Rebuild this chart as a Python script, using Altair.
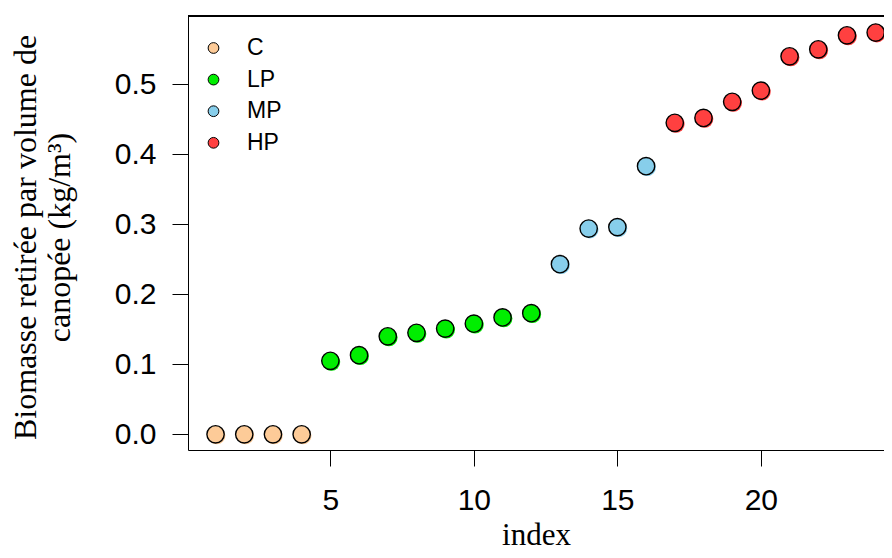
import altair as alt
import pandas as pd

# Data
index = list(range(1, 25))
values = [0.0, 0.0, 0.0, 0.0,
          0.105, 0.113, 0.140, 0.145, 0.151, 0.158, 0.167, 0.173,
          0.243, 0.294, 0.296, 0.383,
          0.445, 0.452, 0.475, 0.491, 0.540, 0.550, 0.570, 0.574]
groups = ["C"] * 4 + ["LP"] * 8 + ["MP"] * 4 + ["HP"] * 8
group_order = ["C", "LP", "MP", "HP"]
group_colors = ["#FDCB98", "#00EE00", "#87CEEB", "#FF4040"]
x_ticks = [5, 10, 15, 20]
y_ticks = [0.0, 0.1, 0.2, 0.3, 0.4, 0.5]
x_domain = [0.04, 24.29]
y_domain = [-0.0224, 0.5976]

df = pd.DataFrame({"index": index, "value": values, "group": groups})

x_enc = alt.X(
    "index:Q",
    scale=alt.Scale(domain=x_domain, nice=False, zero=False),
    axis=alt.Axis(
        values=x_ticks, format="d", grid=False,
        labelFont="Liberation Sans", labelFontSize=30, labelColor="black",
        labelPadding=19, labelFlush=False,
        tickSize=16, tickColor="black", tickWidth=1,
        domainColor="black", domainWidth=1,
        title="index", titleFont="Liberation Serif", titleFontSize=31,
        titleFontWeight="normal", titleColor="black",
        titleBaseline="alphabetic", titleY=94,
    ),
)
y_enc = alt.Y(
    "value:Q",
    scale=alt.Scale(domain=y_domain, nice=False, zero=False),
    axis=alt.Axis(
        values=y_ticks, format=".1f", grid=False,
        labelFont="Liberation Sans", labelFontSize=30, labelColor="black",
        labelPadding=16, labelFlush=False,
        tickSize=16, tickColor="black", tickWidth=1,
        domainColor="black", domainWidth=1,
        title=["Biomasse retirée par volume de", "canopée (kg/m³)"],
        titleFont="Liberation Serif", titleFontSize=32,
        titleFontWeight="normal", titleColor="black",
        titleAngle=270, titleAlign="center", titleBaseline="middle",
        titleLineHeight=33.5, titleX=-162.5, titleY=221,
    ),
)
fill_scale = alt.Scale(domain=group_order, range=group_colors)
legend = alt.Legend(
    title=None, orient="none", legendX=14, legendY=20.5, padding=0,
    symbolType="circle", symbolSize=115, symbolStrokeColor="black",
    symbolStrokeWidth=1, symbolOpacity=1,
    labelFont="Liberation Sans", labelFontSize=23, labelColor="black",
    labelOffset=22, rowPadding=7.6,
)

shadow = alt.Chart(df).mark_circle(size=300, opacity=1, xOffset=1.2, yOffset=1.2).encode(
    x=x_enc, y=y_enc,
    fill=alt.Fill("group:N", scale=fill_scale, legend=legend),
)

points = alt.Chart(df).mark_circle(size=300, opacity=1, stroke="black", strokeWidth=1.4).encode(
    x=x_enc, y=y_enc,
    fill=alt.Fill("group:N", scale=fill_scale, legend=legend),
)

top_rule = alt.Chart(df).mark_rule(color="black", strokeWidth=1).encode(
    y=alt.datum(y_domain[1])
)

chart = alt.layer(shadow, points, top_rule).properties(
    width=696, height=434,
    autosize=alt.AutoSizeParams(type="none"),
    padding={"left": 180, "top": 8, "right": 0, "bottom": 100},
).configure_view(stroke="transparent")

chart.save("out.html", embed_options={"renderer": "svg", "actions": False})
